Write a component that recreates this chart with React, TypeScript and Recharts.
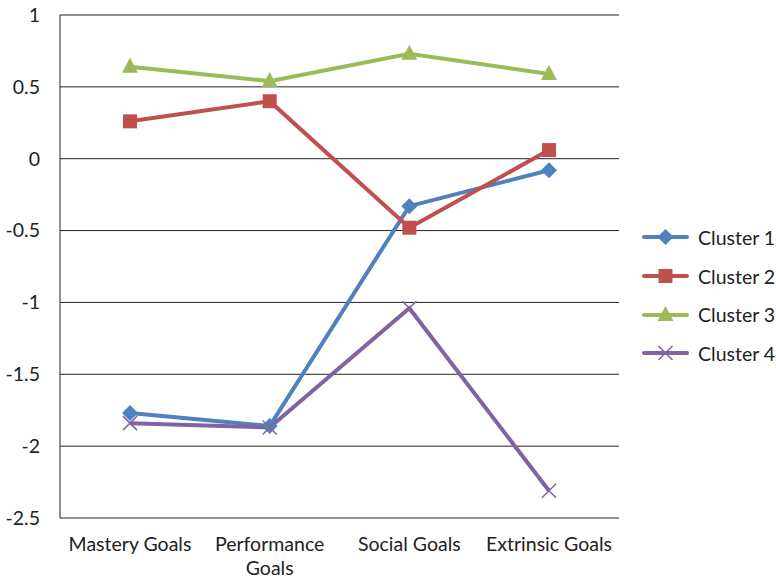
import { LineChart, Line, XAxis, YAxis, CartesianGrid } from 'recharts';

const categories = ['Mastery Goals', 'Performance Goals', 'Social Goals', 'Extrinsic Goals'];
const cluster1 = [-1.77, -1.86, -0.33, -0.08];
const cluster2 = [0.26, 0.4, -0.48, 0.06];
const cluster3 = [0.64, 0.54, 0.73, 0.59];
const cluster4 = [-1.84, -1.87, -1.04, -2.31];
const yTicks = [1, 0.5, 0, -0.5, -1, -1.5, -2, -2.5];

const FONT = 'Lato, "Open Sans", sans-serif';
const FONT_SIZE = 19.5;

type Marker = 'diamond' | 'square' | 'triangle' | 'cross';

const series: { key: string; name: string; color: string; marker: Marker }[] = [
  { key: 'c1', name: 'Cluster 1', color: '#4F81BD', marker: 'diamond' },
  { key: 'c2', name: 'Cluster 2', color: '#C0504D', marker: 'square' },
  { key: 'c3', name: 'Cluster 3', color: '#9BBB59', marker: 'triangle' },
  { key: 'c4', name: 'Cluster 4', color: '#8064A2', marker: 'cross' },
];

const chartData = categories.map((name, i) => ({
  name,
  c1: cluster1[i],
  c2: cluster2[i],
  c3: cluster3[i],
  c4: cluster4[i],
}));

const markerShape = (marker: Marker, cx: number, cy: number, color: string, key?: string) => {
  switch (marker) {
    case 'diamond':
      return (
        <path key={key} d={`M${cx},${cy - 8}L${cx + 8},${cy}L${cx},${cy + 8}L${cx - 8},${cy}Z`} fill={color} />
      );
    case 'square':
      return <rect key={key} x={cx - 7} y={cy - 7} width={14} height={14} fill={color} />;
    case 'triangle':
      return (
        <path key={key} d={`M${cx},${cy - 9}L${cx + 8},${cy + 6}L${cx - 8},${cy + 6}Z`} fill={color} />
      );
    case 'cross':
      return (
        <path
          key={key}
          d={`M${cx - 7},${cy - 7}L${cx + 7},${cy + 7}M${cx - 7},${cy + 7}L${cx + 7},${cy - 7}`}
          stroke={color}
          strokeWidth={1.5}
          fill="none"
        />
      );
  }
};

const makeDot = (marker: Marker, color: string) => (props: any) =>
  markerShape(marker, props.cx, props.cy, color, `dot-${marker}-${props.index}`);

// greedy word wrap so long category names break inside their band
let measureCtx: CanvasRenderingContext2D | null = null;
const wrapLabel = (label: string, maxWidth: number) => {
  if (!measureCtx) measureCtx = document.createElement('canvas').getContext('2d');
  const ctx = measureCtx!;
  ctx.font = `${FONT_SIZE}px ${FONT}`;
  const lines: string[] = [];
  let current = '';
  label.split(' ').forEach((word) => {
    const next = current ? `${current} ${word}` : word;
    if (current && ctx.measureText(next).width > maxWidth) {
      lines.push(current);
      current = word;
    } else {
      current = next;
    }
  });
  if (current) lines.push(current);
  return lines;
};

const CategoryTick = (props: any) => {
  const { x, y, payload } = props;
  const lines = wrapLabel(payload.value, 140);
  return (
    <text x={x} y={y} textAnchor="middle" fill="#222" style={{ fontFamily: FONT, fontSize: FONT_SIZE }}>
      {lines.map((line, i) => (
        <tspan key={i} x={x} dy={i === 0 ? '0.71em' : '1.25em'}>
          {line}
        </tspan>
      ))}
    </text>
  );
};

const LegendBlock = () => (
  <div style={{ position: 'absolute', left: 642, top: 218 }}>
    {series.map((s) => (
      <div key={s.key} style={{ display: 'flex', alignItems: 'center', height: 38.7 }}>
        <svg width={48} height={20}>
          <line x1={2} y1={10} x2={45} y2={10} stroke={s.color} strokeWidth={4} strokeLinecap="round" />
          {markerShape(s.marker, 23.5, 10, s.color)}
        </svg>
        <span style={{ marginLeft: 8, fontFamily: FONT, fontSize: FONT_SIZE, color: '#222' }}>{s.name}</span>
      </div>
    ))}
  </div>
);

const App = () => (
  <div style={{ position: 'absolute', left: 0, top: 0, width: 776, height: 582, background: '#fff' }}>
    <LineChart
      width={776}
      height={582}
      data={chartData}
      margin={{ top: 15, right: 157, bottom: 34, left: 0 }}
    >
      <CartesianGrid horizontal vertical={false} stroke="#222" strokeWidth={1} />
      <XAxis
        dataKey="name"
        height={30}
        padding={{ left: 70, right: 70 }}
        axisLine={false}
        tickLine={false}
        tickSize={0}
        tickMargin={19}
        interval={0}
        tick={<CategoryTick />}
      />
      <YAxis
        width={60}
        domain={[-2.5, 1]}
        ticks={yTicks}
        interval={0}
        axisLine={{ stroke: '#222' }}
        tickLine={false}
        tickSize={0}
        tickMargin={20}
        tick={{ fill: '#222', fontFamily: FONT, fontSize: FONT_SIZE }}
      />
      {series.map((s) => (
        <Line
          key={s.key}
          type="linear"
          dataKey={s.key}
          name={s.name}
          stroke={s.color}
          strokeWidth={4}
          dot={makeDot(s.marker, s.color)}
          activeDot={false}
          isAnimationActive={false}
        />
      ))}
    </LineChart>
    <LegendBlock />
  </div>
);

export default App;
